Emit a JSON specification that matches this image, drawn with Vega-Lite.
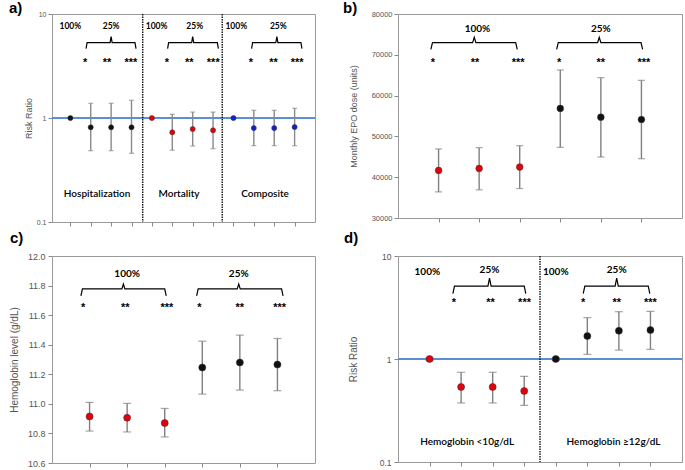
{
 "$schema": "https://vega.github.io/schema/vega-lite/v6.json",
 "padding": {"left": 8, "top": 0, "right": 0, "bottom": 0},
 "background": "white",
 "config": {
  "view": {"stroke": "#9a9a9a", "strokeWidth": 1},
  "axis": {"grid": false, "domain": false, "tickColor": "#888888", "tickSize": 4, "tickCount": 20, "labelFont": "Liberation Sans", "titleFont": "Liberation Sans", "labelColor": "#555555", "titleColor": "#555555", "titleFontWeight": "normal", "labelOverlap": false, "labelBound": false, "labelFlush": false},
  "title": {"font": "Liberation Sans", "fontSize": 15, "fontWeight": "bold", "anchor": "start", "frame": "group", "color": "#000000"}
 },
 "columns": 2,
 "bounds": "flush",
 "spacing": {"row": 34, "column": 83},
 "datasets": {
  "pa": [
   {"x": 1, "y": 1.0, "lo": 0.98, "hi": 1.02, "c": "k"},
   {"x": 2, "y": 0.814, "lo": 0.485, "hi": 1.385, "c": "k"},
   {"x": 3, "y": 0.814, "lo": 0.485, "hi": 1.385, "c": "k"},
   {"x": 4, "y": 0.814, "lo": 0.458, "hi": 1.48, "c": "k"},
   {"x": 5, "y": 1.0, "lo": 0.98, "hi": 1.02, "c": "r"},
   {"x": 6, "y": 0.729, "lo": 0.49, "hi": 1.085, "c": "r"},
   {"x": 7, "y": 0.784, "lo": 0.538, "hi": 1.14, "c": "r"},
   {"x": 8, "y": 0.762, "lo": 0.507, "hi": 1.14, "c": "r"},
   {"x": 9, "y": 1.0, "lo": 0.98, "hi": 1.02, "c": "b"},
   {"x": 10, "y": 0.80, "lo": 0.542, "hi": 1.186, "c": "b"},
   {"x": 11, "y": 0.80, "lo": 0.542, "hi": 1.186, "c": "b"},
   {"x": 12, "y": 0.819, "lo": 0.542, "hi": 1.24, "c": "b"}
  ],
  "pa_sep": [{"x": 4.55}, {"x": 8.45}],
  "pa_pct": [
   {"x": 1.0, "y": 7.67, "t": "100%"}, {"x": 3.0, "y": 7.67, "t": "25%"},
   {"x": 5.23, "y": 7.67, "t": "100%"}, {"x": 7.1, "y": 7.67, "t": "25%"},
   {"x": 9.14, "y": 7.67, "t": "100%"}, {"x": 11.2, "y": 7.67, "t": "25%"}
  ],
  "pa_star": [
   {"x": 1.72, "y": 3.36, "t": "*"}, {"x": 2.8, "y": 3.36, "t": "**"}, {"x": 3.97, "y": 3.36, "t": "***"},
   {"x": 5.73, "y": 3.36, "t": "*"}, {"x": 6.83, "y": 3.36, "t": "**"}, {"x": 8.01, "y": 3.36, "t": "***"},
   {"x": 9.86, "y": 3.36, "t": "*"}, {"x": 10.97, "y": 3.36, "t": "**"}, {"x": 12.12, "y": 3.36, "t": "***"}
  ],
  "pa_lab": [
   {"x": 2.31, "y": 0.185, "t": "Hospitalization"},
   {"x": 6.33, "y": 0.185, "t": "Mortality"},
   {"x": 10.55, "y": 0.185, "t": "Composite"}
  ],
  "pa_br": [
   {"g": 1, "o": 1, "x": 1.77, "y": 4.65}, {"g": 1, "o": 2, "x": 1.82, "y": 5.31}, {"g": 1, "o": 3, "x": 2.95, "y": 5.31}, {"g": 1, "o": 4, "x": 3.0, "y": 6.06}, {"g": 1, "o": 5, "x": 3.05, "y": 5.31}, {"g": 1, "o": 6, "x": 4.17, "y": 5.31}, {"g": 1, "o": 7, "x": 4.22, "y": 4.65},
   {"g": 2, "o": 1, "x": 5.77, "y": 4.65}, {"g": 2, "o": 2, "x": 5.82, "y": 5.31}, {"g": 2, "o": 3, "x": 6.95, "y": 5.31}, {"g": 2, "o": 4, "x": 7.0, "y": 6.06}, {"g": 2, "o": 5, "x": 7.05, "y": 5.31}, {"g": 2, "o": 6, "x": 8.21, "y": 5.31}, {"g": 2, "o": 7, "x": 8.26, "y": 4.65},
   {"g": 3, "o": 1, "x": 9.89, "y": 4.65}, {"g": 3, "o": 2, "x": 9.94, "y": 5.31}, {"g": 3, "o": 3, "x": 11.08, "y": 5.31}, {"g": 3, "o": 4, "x": 11.13, "y": 6.06}, {"g": 3, "o": 5, "x": 11.18, "y": 5.31}, {"g": 3, "o": 6, "x": 12.31, "y": 5.31}, {"g": 3, "o": 7, "x": 12.36, "y": 4.65}
  ],
  "pb": [
   {"x": 1, "y": 41650, "lo": 36400, "hi": 46920, "c": "r"},
   {"x": 2, "y": 42140, "lo": 36900, "hi": 47240, "c": "r"},
   {"x": 3, "y": 42490, "lo": 37220, "hi": 47730, "c": "r"},
   {"x": 4, "y": 56850, "lo": 47320, "hi": 66280, "c": "k"},
   {"x": 5, "y": 54700, "lo": 44950, "hi": 64400, "c": "k"},
   {"x": 6, "y": 54140, "lo": 44530, "hi": 63740, "c": "k"}
  ],
  "pb_pct": [{"x": 1.96, "y": 76240, "t": "100%"}, {"x": 5.0, "y": 76240, "t": "25%"}],
  "pb_star": [
   {"x": 0.86, "y": 67900, "t": "*"}, {"x": 1.9, "y": 67900, "t": "**"}, {"x": 2.96, "y": 67900, "t": "***"},
   {"x": 3.97, "y": 67900, "t": "*"}, {"x": 5.0, "y": 67900, "t": "**"}, {"x": 6.06, "y": 67900, "t": "***"}
  ],
  "pb_br": [
   {"g": 1, "o": 1, "x": 0.81, "y": 71330}, {"g": 1, "o": 2, "x": 0.85, "y": 72980}, {"g": 1, "o": 3, "x": 1.84, "y": 72980}, {"g": 1, "o": 4, "x": 1.88, "y": 74280}, {"g": 1, "o": 5, "x": 1.92, "y": 72980}, {"g": 1, "o": 6, "x": 2.9, "y": 72980}, {"g": 1, "o": 7, "x": 2.94, "y": 71330},
   {"g": 2, "o": 1, "x": 3.91, "y": 71330}, {"g": 2, "o": 2, "x": 3.95, "y": 72980}, {"g": 2, "o": 3, "x": 4.92, "y": 72980}, {"g": 2, "o": 4, "x": 4.96, "y": 74280}, {"g": 2, "o": 5, "x": 5.0, "y": 72980}, {"g": 2, "o": 6, "x": 5.99, "y": 72980}, {"g": 2, "o": 7, "x": 6.03, "y": 71330}
  ],
  "pc": [
   {"x": 1, "y": 10.915, "lo": 10.816, "hi": 11.01, "c": "r"},
   {"x": 2, "y": 10.906, "lo": 10.81, "hi": 11.003, "c": "r"},
   {"x": 3, "y": 10.87, "lo": 10.776, "hi": 10.969, "c": "r"},
   {"x": 4, "y": 11.246, "lo": 11.066, "hi": 11.424, "c": "k"},
   {"x": 5, "y": 11.28, "lo": 11.093, "hi": 11.465, "c": "k"},
   {"x": 6, "y": 11.266, "lo": 11.089, "hi": 11.442, "c": "k"}
  ],
  "pc_pct": [{"x": 2.0, "y": 11.876, "t": "100%"}, {"x": 4.97, "y": 11.876, "t": "25%"}],
  "pc_star": [
   {"x": 0.83, "y": 11.65, "t": "*"}, {"x": 1.95, "y": 11.65, "t": "**"}, {"x": 3.06, "y": 11.65, "t": "***"},
   {"x": 3.92, "y": 11.65, "t": "*"}, {"x": 5.0, "y": 11.65, "t": "**"}, {"x": 6.06, "y": 11.65, "t": "***"}
  ],
  "pc_br": [
   {"g": 1, "o": 1, "x": 0.77, "y": 11.73}, {"g": 1, "o": 2, "x": 0.81, "y": 11.777}, {"g": 1, "o": 3, "x": 1.86, "y": 11.777}, {"g": 1, "o": 4, "x": 1.9, "y": 11.81}, {"g": 1, "o": 5, "x": 1.94, "y": 11.777}, {"g": 1, "o": 6, "x": 3.0, "y": 11.777}, {"g": 1, "o": 7, "x": 3.04, "y": 11.73},
   {"g": 2, "o": 1, "x": 3.85, "y": 11.73}, {"g": 2, "o": 2, "x": 3.89, "y": 11.777}, {"g": 2, "o": 3, "x": 4.93, "y": 11.777}, {"g": 2, "o": 4, "x": 4.97, "y": 11.81}, {"g": 2, "o": 5, "x": 5.01, "y": 11.777}, {"g": 2, "o": 6, "x": 6.11, "y": 11.777}, {"g": 2, "o": 7, "x": 6.15, "y": 11.73}
  ],
  "pd": [
   {"x": 1, "y": 1.0, "lo": 0.97, "hi": 1.03, "c": "r"},
   {"x": 2, "y": 0.535, "lo": 0.374, "hi": 0.743, "c": "r"},
   {"x": 3, "y": 0.535, "lo": 0.374, "hi": 0.743, "c": "r"},
   {"x": 4, "y": 0.489, "lo": 0.355, "hi": 0.679, "c": "r"},
   {"x": 5, "y": 1.0, "lo": 0.97, "hi": 1.03, "c": "k"},
   {"x": 6, "y": 1.67, "lo": 1.11, "hi": 2.52, "c": "k"},
   {"x": 7, "y": 1.88, "lo": 1.22, "hi": 2.88, "c": "k"},
   {"x": 8, "y": 1.91, "lo": 1.24, "hi": 2.9, "c": "k"}
  ],
  "pd_sep": [{"x": 4.5}],
  "pd_pct": [
   {"x": 0.93, "y": 7.0, "t": "100%"}, {"x": 2.9, "y": 7.25, "t": "25%"},
   {"x": 5.0, "y": 7.0, "t": "100%"}, {"x": 6.93, "y": 7.25, "t": "25%"}
  ],
  "pd_star": [
   {"x": 1.77, "y": 3.52, "t": "*"}, {"x": 2.93, "y": 3.52, "t": "**"}, {"x": 4.01, "y": 3.52, "t": "***"},
   {"x": 5.87, "y": 3.52, "t": "*"}, {"x": 6.93, "y": 3.52, "t": "**"}, {"x": 8.0, "y": 3.52, "t": "***"}
  ],
  "pd_lab": [
   {"x": 2.19, "y": 0.156, "t": "Hemoglobin <10g/dL"},
   {"x": 6.83, "y": 0.156, "t": "Hemoglobin ≥12g/dL"}
  ],
  "pd_br": [
   {"g": 1, "o": 1, "x": 1.74, "y": 4.31}, {"g": 1, "o": 2, "x": 1.79, "y": 5.11}, {"g": 1, "o": 3, "x": 2.85, "y": 5.11}, {"g": 1, "o": 4, "x": 2.9, "y": 6.11}, {"g": 1, "o": 5, "x": 2.95, "y": 5.11}, {"g": 1, "o": 6, "x": 4.0, "y": 5.11}, {"g": 1, "o": 7, "x": 4.05, "y": 4.31},
   {"g": 2, "o": 1, "x": 5.87, "y": 4.31}, {"g": 2, "o": 2, "x": 5.92, "y": 5.11}, {"g": 2, "o": 3, "x": 6.88, "y": 5.11}, {"g": 2, "o": 4, "x": 6.93, "y": 6.11}, {"g": 2, "o": 5, "x": 6.98, "y": 5.11}, {"g": 2, "o": 6, "x": 7.93, "y": 5.11}, {"g": 2, "o": 7, "x": 7.98, "y": 4.31}
  ]
 },
 "concat": [
  {
   "title": {"text": "a)", "dx": -43, "offset": -6},
   "width": 263, "height": 208,
   "layer": [
    {"data": {"name": "pa"}, "mark": {"type": "rule", "color": "#5b8fd1", "strokeWidth": 2}, "encoding": {"y": {"datum": 1, "type": "quantitative"}}},
    {"data": {"name": "pa_sep"}, "mark": {"type": "rule", "color": "#111111", "strokeWidth": 1.4, "strokeDash": [1.5, 1]}, "encoding": {"x": {"field": "x", "type": "quantitative"}}},
    {"data": {"name": "pa"}, "mark": {"type": "rule", "color": "#8a8a8a", "strokeWidth": 1.4},
     "encoding": {
      "x": {"field": "x", "type": "quantitative", "scale": {"domain": [0.1, 13], "nice": false, "zero": false}, "axis": {"values": [1,2,3,4,5,6,7,8,9,10,11,12], "tickCount": 20, "labels": false, "title": null}},
      "y": {"field": "lo", "type": "quantitative", "scale": {"type": "log", "domain": [0.1, 10], "nice": false}, "axis": {"values": [0.1, 1, 10], "tickCount": 20, "format": "~g", "title": "Risk Ratio", "labelFontSize": 7, "titleFontSize": 9, "titlePadding": 3, "labelPadding": 2}},
      "y2": {"field": "hi"}}},
    {"data": {"name": "pa"}, "mark": {"type": "tick", "orient": "horizontal", "size": 5, "thickness": 1.2, "color": "#8a8a8a"}, "encoding": {"x": {"field": "x", "type": "quantitative"}, "y": {"field": "lo", "type": "quantitative"}}},
    {"data": {"name": "pa"}, "mark": {"type": "tick", "orient": "horizontal", "size": 5, "thickness": 1.2, "color": "#8a8a8a"}, "encoding": {"x": {"field": "x", "type": "quantitative"}, "y": {"field": "hi", "type": "quantitative"}}},
    {"data": {"name": "pa"}, "mark": {"type": "circle", "size": 26, "opacity": 1, "stroke": "#333333", "strokeWidth": 0.5},
     "encoding": {"x": {"field": "x", "type": "quantitative"}, "y": {"field": "y", "type": "quantitative"},
      "color": {"field": "c", "type": "nominal", "scale": {"domain": ["k", "r", "b"], "range": ["#111111", "#e3000b", "#1020d0"]}, "legend": null}}},
    {"data": {"name": "pa_pct"}, "mark": {"type": "text", "font": "Lato", "fontSize": 8.5, "fontWeight": "bold", "baseline": "middle", "color": "#000000"}, "encoding": {"x": {"field": "x", "type": "quantitative"}, "y": {"field": "y", "type": "quantitative"}, "text": {"field": "t"}}},
    {"data": {"name": "pa_star"}, "mark": {"type": "text", "font": "Liberation Sans", "fontSize": 11, "fontWeight": "bold", "baseline": "middle", "color": "#000000"}, "encoding": {"x": {"field": "x", "type": "quantitative"}, "y": {"field": "y", "type": "quantitative"}, "text": {"field": "t"}}},
    {"data": {"name": "pa_lab"}, "mark": {"type": "text", "font": "Lato", "fontSize": 10, "fontWeight": 600, "baseline": "middle", "color": "#000000"}, "encoding": {"x": {"field": "x", "type": "quantitative"}, "y": {"field": "y", "type": "quantitative"}, "text": {"field": "t"}}},
    {"data": {"name": "pa_br"}, "mark": {"type": "line", "color": "#000000", "strokeWidth": 1.2}, "encoding": {"x": {"field": "x", "type": "quantitative"}, "y": {"field": "y", "type": "quantitative"}, "detail": {"field": "g"}, "order": {"field": "o"}}}
   ]
  },
  {
   "title": {"text": "b)", "dx": -55, "offset": -6},
   "width": 284, "height": 204,
   "layer": [
    {"data": {"name": "pb"}, "mark": {"type": "rule", "color": "#808080", "strokeWidth": 1.4},
     "encoding": {
      "x": {"field": "x", "type": "quantitative", "scale": {"domain": [0, 7], "nice": false, "zero": false}, "axis": {"values": [1,2,3,4,5,6], "tickCount": 20, "labels": false, "title": null}},
      "y": {"field": "lo", "type": "quantitative", "scale": {"domain": [30000, 80000], "nice": false, "zero": false}, "axis": {"values": [30000, 40000, 50000, 60000, 70000, 80000], "tickCount": 20, "format": "d", "title": "Monthly EPO dose (units)", "labelFontSize": 7.5, "titleFontSize": 9, "titlePadding": 13, "labelPadding": 2}},
      "y2": {"field": "hi"}}},
    {"data": {"name": "pb"}, "mark": {"type": "tick", "orient": "horizontal", "size": 7, "thickness": 1.2, "color": "#808080"}, "encoding": {"x": {"field": "x", "type": "quantitative"}, "y": {"field": "lo", "type": "quantitative"}}},
    {"data": {"name": "pb"}, "mark": {"type": "tick", "orient": "horizontal", "size": 7, "thickness": 1.2, "color": "#808080"}, "encoding": {"x": {"field": "x", "type": "quantitative"}, "y": {"field": "hi", "type": "quantitative"}}},
    {"data": {"name": "pb"}, "mark": {"type": "circle", "size": 45, "opacity": 1, "stroke": "#333333", "strokeWidth": 0.5},
     "encoding": {"x": {"field": "x", "type": "quantitative"}, "y": {"field": "y", "type": "quantitative"},
      "color": {"field": "c", "type": "nominal", "scale": {"domain": ["k", "r", "b"], "range": ["#111111", "#e3000b", "#1020d0"]}, "legend": null}}},
    {"data": {"name": "pb_pct"}, "mark": {"type": "text", "font": "Lato", "fontSize": 10, "fontWeight": "bold", "baseline": "middle", "color": "#000000"}, "encoding": {"x": {"field": "x", "type": "quantitative"}, "y": {"field": "y", "type": "quantitative"}, "text": {"field": "t"}}},
    {"data": {"name": "pb_star"}, "mark": {"type": "text", "font": "Liberation Sans", "fontSize": 11, "fontWeight": "bold", "baseline": "middle", "color": "#000000"}, "encoding": {"x": {"field": "x", "type": "quantitative"}, "y": {"field": "y", "type": "quantitative"}, "text": {"field": "t"}}},
    {"data": {"name": "pb_br"}, "mark": {"type": "line", "color": "#000000", "strokeWidth": 1.2}, "encoding": {"x": {"field": "x", "type": "quantitative"}, "y": {"field": "y", "type": "quantitative"}, "detail": {"field": "g"}, "order": {"field": "o"}}}
   ]
  },
  {
   "title": {"text": "c)", "dx": -42, "offset": 6},
   "width": 263, "height": 207,
   "layer": [
    {"data": {"name": "pc"}, "mark": {"type": "rule", "color": "#808080", "strokeWidth": 1.4},
     "encoding": {
      "x": {"field": "x", "type": "quantitative", "scale": {"domain": [0, 7], "nice": false, "zero": false}, "axis": {"values": [1,2,3,4,5,6], "tickCount": 20, "labels": false, "title": null}},
      "y": {"field": "lo", "type": "quantitative", "scale": {"domain": [10.6, 12.0], "nice": false, "zero": false}, "axis": {"values": [10.6, 10.8, 11.0, 11.2, 11.4, 11.6, 11.8, 12.0], "tickCount": 20, "format": ".1f", "title": "Hemoglobin level (g/dL)", "labelFontSize": 9, "titleFontSize": 10, "titlePadding": 8, "labelPadding": 3}},
      "y2": {"field": "hi"}}},
    {"data": {"name": "pc"}, "mark": {"type": "tick", "orient": "horizontal", "size": 8, "thickness": 1.2, "color": "#808080"}, "encoding": {"x": {"field": "x", "type": "quantitative"}, "y": {"field": "lo", "type": "quantitative"}}},
    {"data": {"name": "pc"}, "mark": {"type": "tick", "orient": "horizontal", "size": 8, "thickness": 1.2, "color": "#808080"}, "encoding": {"x": {"field": "x", "type": "quantitative"}, "y": {"field": "hi", "type": "quantitative"}}},
    {"data": {"name": "pc"}, "mark": {"type": "circle", "size": 50, "opacity": 1, "stroke": "#333333", "strokeWidth": 0.5},
     "encoding": {"x": {"field": "x", "type": "quantitative"}, "y": {"field": "y", "type": "quantitative"},
      "color": {"field": "c", "type": "nominal", "scale": {"domain": ["k", "r", "b"], "range": ["#111111", "#e3000b", "#1020d0"]}, "legend": null}}},
    {"data": {"name": "pc_pct"}, "mark": {"type": "text", "font": "Lato", "fontSize": 10, "fontWeight": "bold", "baseline": "middle", "color": "#000000"}, "encoding": {"x": {"field": "x", "type": "quantitative"}, "y": {"field": "y", "type": "quantitative"}, "text": {"field": "t"}}},
    {"data": {"name": "pc_star"}, "mark": {"type": "text", "font": "Liberation Sans", "fontSize": 11, "fontWeight": "bold", "baseline": "middle", "color": "#000000"}, "encoding": {"x": {"field": "x", "type": "quantitative"}, "y": {"field": "y", "type": "quantitative"}, "text": {"field": "t"}}},
    {"data": {"name": "pc_br"}, "mark": {"type": "line", "color": "#000000", "strokeWidth": 1.2}, "encoding": {"x": {"field": "x", "type": "quantitative"}, "y": {"field": "y", "type": "quantitative"}, "detail": {"field": "g"}, "order": {"field": "o"}}}
   ]
  },
  {
   "title": {"text": "d)", "dx": -54, "offset": 6},
   "width": 284, "height": 206,
   "layer": [
    {"data": {"name": "pd"}, "mark": {"type": "rule", "color": "#5b8fd1", "strokeWidth": 2}, "encoding": {"y": {"datum": 1, "type": "quantitative"}}},
    {"data": {"name": "pd_sep"}, "mark": {"type": "rule", "color": "#111111", "strokeWidth": 1.4, "strokeDash": [1.5, 1]}, "encoding": {"x": {"field": "x", "type": "quantitative"}}},
    {"data": {"name": "pd"}, "mark": {"type": "rule", "color": "#808080", "strokeWidth": 1.4},
     "encoding": {
      "x": {"field": "x", "type": "quantitative", "scale": {"domain": [0, 9], "nice": false, "zero": false}, "axis": {"values": [1,2,3,4,5,6,7,8], "tickCount": 20, "labels": false, "title": null}},
      "y": {"field": "lo", "type": "quantitative", "scale": {"type": "log", "domain": [0.1, 10], "nice": false}, "axis": {"values": [0.1, 1, 10], "tickCount": 20, "format": "~g", "title": "Risk Ratio", "labelFontSize": 8.5, "titleFontSize": 10, "titlePadding": 21, "labelPadding": 3}},
      "y2": {"field": "hi"}}},
    {"data": {"name": "pd"}, "mark": {"type": "tick", "orient": "horizontal", "size": 8, "thickness": 1.2, "color": "#808080"}, "encoding": {"x": {"field": "x", "type": "quantitative"}, "y": {"field": "lo", "type": "quantitative"}}},
    {"data": {"name": "pd"}, "mark": {"type": "tick", "orient": "horizontal", "size": 8, "thickness": 1.2, "color": "#808080"}, "encoding": {"x": {"field": "x", "type": "quantitative"}, "y": {"field": "hi", "type": "quantitative"}}},
    {"data": {"name": "pd"}, "mark": {"type": "circle", "size": 50, "opacity": 1, "stroke": "#333333", "strokeWidth": 0.5},
     "encoding": {"x": {"field": "x", "type": "quantitative"}, "y": {"field": "y", "type": "quantitative"},
      "color": {"field": "c", "type": "nominal", "scale": {"domain": ["k", "r", "b"], "range": ["#111111", "#e3000b", "#1020d0"]}, "legend": null}}},
    {"data": {"name": "pd_pct"}, "mark": {"type": "text", "font": "Lato", "fontSize": 10, "fontWeight": "bold", "baseline": "middle", "color": "#000000"}, "encoding": {"x": {"field": "x", "type": "quantitative"}, "y": {"field": "y", "type": "quantitative"}, "text": {"field": "t"}}},
    {"data": {"name": "pd_star"}, "mark": {"type": "text", "font": "Liberation Sans", "fontSize": 11, "fontWeight": "bold", "baseline": "middle", "color": "#000000"}, "encoding": {"x": {"field": "x", "type": "quantitative"}, "y": {"field": "y", "type": "quantitative"}, "text": {"field": "t"}}},
    {"data": {"name": "pd_lab"}, "mark": {"type": "text", "font": "Lato", "fontSize": 10, "fontWeight": 600, "baseline": "middle", "color": "#000000"}, "encoding": {"x": {"field": "x", "type": "quantitative"}, "y": {"field": "y", "type": "quantitative"}, "text": {"field": "t"}}},
    {"data": {"name": "pd_br"}, "mark": {"type": "line", "color": "#000000", "strokeWidth": 1.2}, "encoding": {"x": {"field": "x", "type": "quantitative"}, "y": {"field": "y", "type": "quantitative"}, "detail": {"field": "g"}, "order": {"field": "o"}}}
   ]
  }
 ]
}
